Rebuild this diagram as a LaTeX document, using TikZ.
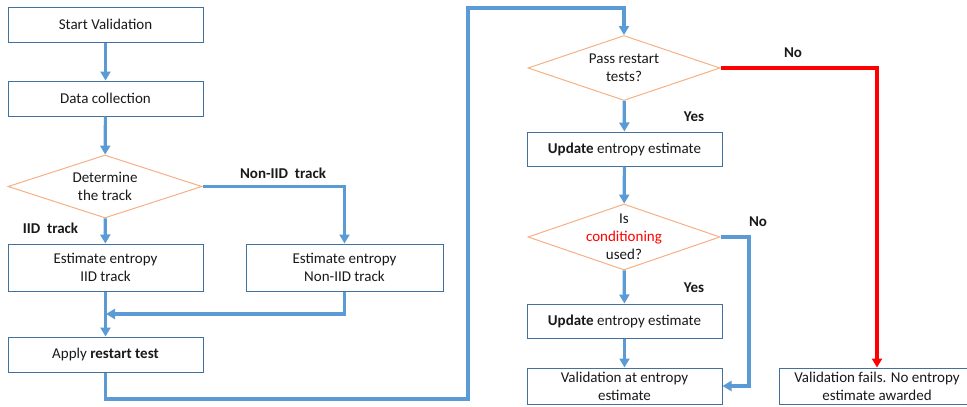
\documentclass[tikz,border=0pt]{standalone}
\usepackage{fontspec}
\setmainfont{Carlito}
\usetikzlibrary{arrows.meta,shapes.geometric}

\definecolor{flowblue}{RGB}{91,155,213}
\definecolor{boxblue}{RGB}{65,113,156}
\definecolor{decorange}{RGB}{244,177,131}
\definecolor{txtgray}{RGB}{25,25,25}

\begin{document}
\begin{tikzpicture}[x=1pt,y=-1pt,
		font=\fontsize{15}{18}\selectfont, text=txtgray,
		box/.style={draw=boxblue, line width=1pt, minimum width=195pt, inner sep=1pt, align=center},
		decision/.style={diamond, draw=decorange, line width=1pt, inner sep=0pt},
		flow/.style={draw=flowblue, line width=3.2pt, -{Triangle[length=9pt,width=10pt]}},
		nopass/.style={draw=red, line width=3.2pt, -{Triangle[length=9pt,width=10pt]}},
		lbl/.style={font=\fontsize{15}{18}\selectfont\bfseries}]
	\useasboundingbox (0,0) rectangle (967,407);

	% left column
	\node[box, minimum height=35pt] (start) at (105.5,24.5) {Start Validation};
	\node[box, minimum height=35pt] (collect) at (105.5,98.5) {Data collection};
	\node[decision, minimum width=194pt, minimum height=63pt,
		label={[align=center]center:Determine\\the track}] (track) at (105,186.5) {};
	\node[box, minimum height=47pt] (iid) at (105.5,267.5) {Estimate entropy\\IID track};
	\node[box, minimum width=197pt, minimum height=47pt] (noniid) at (344.5,267.5) {Estimate entropy\\Non-IID track};
	\node[box, minimum height=35pt] (apply) at (105.5,354.5) {Apply \textbf{restart test}};

	% right column
	\node[decision, minimum width=192pt, minimum height=65pt,
		label={[align=center]center:Pass restart\\tests?}] (passq) at (624,68) {};
	\node[box, minimum height=34pt] (upd1) at (624.5,149) {\textbf{Update} entropy estimate};
	\node[decision, minimum width=192pt, minimum height=66pt,
		label={[align=center]center:Is\\\textcolor{red}{conditioning}\\used?}] (condq) at (624,237) {};
	\node[box, minimum height=34pt] (upd2) at (624.5,321) {\textbf{Update} entropy estimate};
	\node[box, minimum height=36pt] (valid) at (624.5,386) {Validation at entropy\\estimate};
	\node[box, minimum width=196pt, minimum height=36pt] (fails) at (877,386) {Validation fails. No entropy\\estimate awarded};

	% edge labels
	\node[lbl] (lnoniid) at (283,173) {Non-IID~ track};
	\node[lbl] (liid) at (50.5,228) {IID~ track};
	\node[lbl] (lno1) at (793,53) {No};
	\node[lbl] (lyes1) at (694,117) {Yes};
	\node[lbl] (lno2) at (758,222) {No};
	\node[lbl] (lyes2) at (694,288) {Yes};

	\coordinate (merge) at (106,314);
	\coordinate (loopbot) at (468,399);
	\coordinate (looptop) at (468,8);
	\coordinate (nobend) at (749,237);

	\draw[flow] (start) -- (collect);
	\draw[flow] (collect) -- (track);
	\draw[flow] (track) -- (iid);
	\draw[flow] (track.east) -| (noniid.north);
	\draw[flow] (iid) -- (apply);
	\draw[flow] (noniid.south) |- (merge);
	\draw[flow] (apply.south) |- (loopbot) -- (looptop) -| (passq.north);
	\draw[nopass] (passq.east) -| (fails.north);
	\draw[flow] (passq) -- (upd1);
	\draw[flow] (upd1) -- (condq);
	\draw[flow] (condq) -- (upd2);
	\draw[flow] (condq.east) -- (nobend) |- (valid.east);
	\draw[flow] (upd2) -- (valid);
\end{tikzpicture}
\end{document}
